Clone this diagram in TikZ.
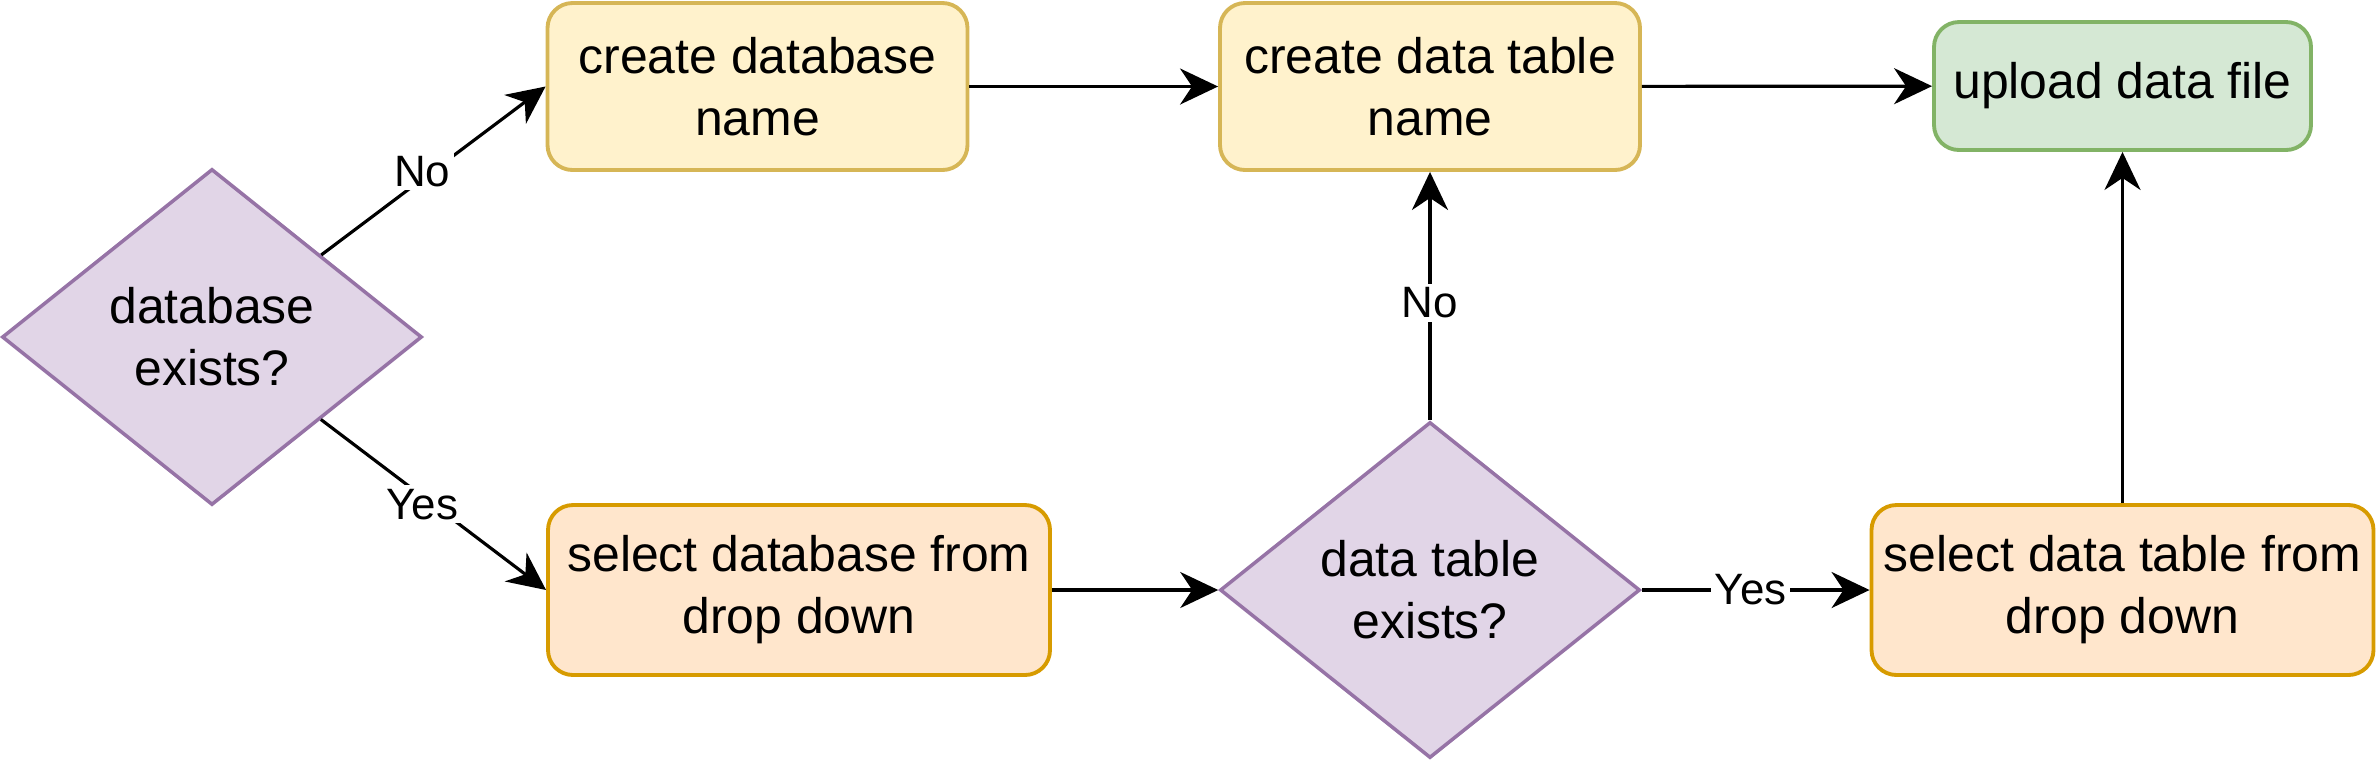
\documentclass[tikz,border=0pt]{standalone}
\usepackage{fontspec}
\setmainfont{Liberation Sans}
\usetikzlibrary{arrows.meta, positioning, shapes.geometric}

\definecolor{ylwfill}{HTML}{FFF2CC}
\definecolor{ylwline}{HTML}{D6B656}
\definecolor{orgfill}{HTML}{FFE6CC}
\definecolor{orgline}{HTML}{D79B00}
\definecolor{grnfill}{HTML}{D5E8D4}
\definecolor{grnline}{HTML}{82B366}
\definecolor{prpfill}{HTML}{E1D5E7}
\definecolor{prpline}{HTML}{9673A6}

\begin{document}
\begin{tikzpicture}[line width=0.9pt,
   -{Stealth[length=3.8mm, width=3.6mm, inset=1.2mm]},
   box/.style = {rectangle, rounded corners=2.5mm, draw, align=center,
                 line width=1.1pt, inner sep=0pt,
                 font=\fontsize{14.2}{17.6}\selectfont},
   createbox/.style = {box, draw=ylwline, fill=ylwfill,
                       minimum width=4.2cm, minimum height=1.67cm},
   selectbox/.style = {box, draw=orgline, fill=orgfill,
                       minimum width=5.02cm, minimum height=1.70cm},
   uploadbox/.style = {box, draw=grnline, fill=grnfill,
                       minimum width=3.77cm, minimum height=1.28cm},
   decision/.style = {diamond, aspect=1.25, draw=prpline, fill=prpfill,
                      minimum width=4.2cm, minimum height=3.36cm,
                      line width=1pt, inner sep=0pt, align=center,
                      font=\fontsize{14.2}{17.6}\selectfont},
   lbl/.style = {fill=white, inner sep=1pt, font=\fontsize{12.5}{14}\selectfont}]
   \useasboundingbox (0,0) rectangle (23.78,-7.61);

   \node[decision]  (dbq) at (2.12,-3.37)   {database\\exists?};
   \node[createbox] (cdb) at (7.575,-0.865) {create database\\name};
   \node[createbox] (cdt) at (14.30,-0.865) {create data table\\name};
   \node[uploadbox] (upl) at (21.225,-0.86) {upload data file};
   \node[selectbox] (sdb) at (7.99,-5.9)    {select database from\\drop down};
   \node[decision]  (dtq) at (14.30,-5.9)   {data table\\exists?};
   \node[selectbox] (sdt) at (21.225,-5.9)  {select data table from\\drop down};

   \draw (dbq) edge node[lbl, pos=0.45, yshift=0.8mm]{No} (cdb.west);
   \draw (dbq) edge node[lbl, pos=0.45, yshift=-0.8mm]{Yes} (sdb.west);
   %
   \draw (cdb) edge (cdt);
   \draw (cdt) edge (upl);
   \draw (sdb) edge (dtq);
   %
   \draw (dtq) edge node[lbl, yshift=-0.7mm]{No} (cdt);
   \draw (dtq) edge node[lbl, xshift=-0.5mm]{Yes} (sdt);
   \draw (sdt) edge (upl);
\end{tikzpicture}
\end{document}
